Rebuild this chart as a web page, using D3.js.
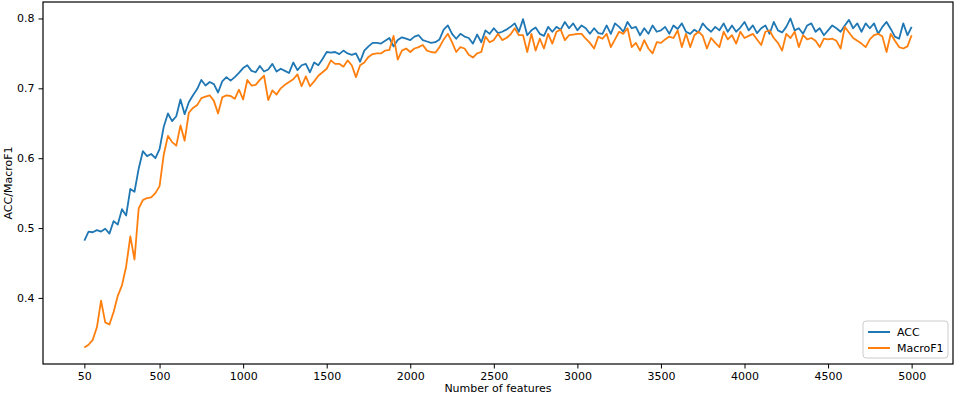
<!DOCTYPE html>
<html>
<head>
<meta charset="utf-8">
<script src="https://cdn.jsdelivr.net/npm/d3@7"></script>
<style>
  body { margin: 0; background: #fff; }
  svg text { font-family: "DejaVu Sans", sans-serif; fill: #000; }
</style>
</head>
<body>
<div id="chart"></div>
<script>
// number of features, sampled every 25
const featureStep = 25;
const features = d3.range(50, 5001, featureStep);

const accValues = [
  .482, .495, .494, .497, .495, .499, .492, .510, .505, .527,
  .518, .556, .552, .585, .610, .603, .606, .600, .613, .645,
  .664, .653, .660, .684, .663, .680, .690, .699, .712, .704,
  .709, .706, .694, .710, .716, .711, .716, .722, .729, .733,
  .725, .723, .732, .724, .727, .735, .724, .728, .725, .722,
  .737, .726, .733, .735, .723, .737, .733, .742, .752, .751,
  .752, .749, .754, .750, .748, .750, .738, .754, .760, .765,
  .765, .764, .768, .772, .760, .769, .773, .771, .769, .774,
  .776, .769, .767, .765, .766, .770, .784, .790, .778, .771,
  .778, .774, .772, .764, .777, .766, .783, .778, .786, .779,
  .781, .784, .788, .793, .781, .799, .776, .783, .787, .778,
  .775, .788, .781, .788, .784, .795, .786, .793, .783, .790,
  .786, .778, .786, .779, .778, .790, .778, .793, .788, .781,
  .795, .786, .788, .776, .786, .778, .790, .781, .783, .788,
  .778, .790, .785, .793, .781, .778, .784, .780, .793, .786,
  .781, .788, .783, .793, .781, .790, .781, .787, .795, .783,
  .790, .779, .786, .790, .778, .795, .783, .780, .788, .800,
  .783, .786, .778, .790, .793, .781, .786, .776, .783, .790,
  .786, .781, .790, .798, .786, .793, .781, .793, .786, .793,
  .778, .788, .795, .785, .774, .771, .793, .776, .788
];

const macroF1Values = [
  .329, .333, .340, .358, .396, .365, .362, .380, .403, .418,
  .445, .488, .455, .528, .540, .543, .544, .550, .560, .605,
  .632, .623, .618, .647, .625, .665, .672, .676, .686, .688,
  .690, .682, .664, .687, .690, .689, .685, .698, .684, .712,
  .704, .705, .712, .718, .683, .697, .691, .700, .705, .709,
  .713, .720, .703, .717, .703, .710, .718, .723, .728, .740,
  .735, .735, .731, .740, .733, .716, .733, .737, .745, .749,
  .750, .750, .754, .755, .775, .741, .754, .757, .752, .757,
  .759, .762, .754, .752, .751, .759, .770, .778, .766, .752,
  .759, .757, .748, .744, .750, .752, .774, .766, .769, .778,
  .769, .772, .777, .786, .776, .776, .752, .778, .754, .771,
  .757, .778, .764, .781, .784, .769, .776, .777, .778, .778,
  .771, .765, .757, .774, .771, .778, .759, .770, .781, .778,
  .786, .759, .765, .754, .769, .757, .750, .766, .765, .770,
  .774, .772, .783, .759, .778, .759, .776, .781, .775, .757,
  .772, .765, .759, .781, .770, .776, .764, .781, .772, .775,
  .778, .770, .762, .781, .783, .772, .765, .754, .778, .772,
  .781, .759, .776, .770, .772, .768, .759, .771, .770, .771,
  .768, .757, .788, .780, .772, .768, .764, .759, .770, .776,
  .778, .774, .752, .778, .768, .759, .757, .760, .776
];

const xTicks = [50, 500, 1000, 1500, 2000, 2500, 3000, 3500, 4000, 4500, 5000];
const yTicks = [0.4, 0.5, 0.6, 0.7, 0.8];

const seriesNames = ['ACC', 'MacroF1'];
const seriesColors = ['#1f77b4', '#ff7f0e'];

const W = 957, H = 397;
const margin = { top: 2, right: 4, bottom: 33, left: 43 };
const width = W - margin.left - margin.right;
const height = H - margin.top - margin.bottom;

const svg = d3.select('#chart')
    .append('svg')
    .attr('width', W)
    .attr('height', H);

const g = svg.append('g')
    .attr('transform', `translate(${margin.left},${margin.top})`);

// matplotlib style 5% margins
const xMin = 50, xMax = 5000;
const xPad = (xMax - xMin) * 0.05;
const x = d3.scaleLinear()
    .domain([xMin - xPad, xMax + xPad])
    .range([0, width]);

const allVals = accValues.concat(macroF1Values);
const yLo = d3.min(allVals), yHi = d3.max(allVals);
const yPad = (yHi - yLo) * 0.05;
const y = d3.scaleLinear()
    .domain([yLo - yPad, yHi + yPad])
    .range([height, 0]);

// Lines
const line = d3.line()
    .x(d => x(d[0]))
    .y(d => y(d[1]));

[accValues, macroF1Values].forEach((vals, i) => {
    g.append('path')
        .datum(features.map((f, j) => [f, vals[j]]))
        .attr('fill', 'none')
        .attr('stroke', seriesColors[i])
        .attr('stroke-width', 1.8)
        .attr('stroke-linejoin', 'round')
        .attr('d', line);
});

// Axes
const xAxis = g.append('g')
    .attr('transform', `translate(0,${height})`)
    .call(d3.axisBottom(x).tickValues(xTicks).tickSize(4.5).tickPadding(4).tickFormat(d3.format('d')));

const yAxis = g.append('g')
    .call(d3.axisLeft(y).tickValues(yTicks).tickSize(4.5).tickPadding(4).tickFormat(d3.format('.1f')));

[xAxis, yAxis].forEach(ax => {
    ax.select('.domain').remove();
    ax.selectAll('line').attr('stroke', '#000').attr('stroke-width', 1);
    ax.selectAll('text').style('font-size', '11px').style('font-family', '"DejaVu Sans", sans-serif').attr('fill', '#000');
});

// Frame
g.append('rect')
    .attr('x', 0).attr('y', 0)
    .attr('width', width).attr('height', height)
    .attr('fill', 'none')
    .attr('stroke', '#000')
    .attr('stroke-width', 1.2);

// Axis labels
svg.append('text')
    .attr('x', margin.left + width / 2)
    .attr('y', 392)
    .attr('text-anchor', 'middle')
    .style('font-size', '11px')
    .text('Number of features');

svg.append('text')
    .attr('transform', `translate(12,${margin.top + height / 2}) rotate(-90)`)
    .attr('text-anchor', 'middle')
    .style('font-size', '11px')
    .text('ACC/MacroF1');

// Legend
const legend = g.append('g')
    .attr('transform', `translate(${width - 90},${height - 43})`);

legend.append('rect')
    .attr('width', 85)
    .attr('height', 37)
    .attr('rx', 3)
    .attr('fill', '#fff')
    .attr('fill-opacity', 0.8)
    .attr('stroke', '#ccc');

seriesNames.forEach((name, i) => {
    const ly = 11 + i * 16;
    legend.append('line')
        .attr('x1', 5).attr('x2', 27)
        .attr('y1', ly).attr('y2', ly)
        .attr('stroke', seriesColors[i])
        .attr('stroke-width', 2);
    legend.append('text')
        .attr('x', 34)
        .attr('y', ly + 4)
        .style('font-size', '11px')
        .text(name);
});
</script>
</body>
</html>
